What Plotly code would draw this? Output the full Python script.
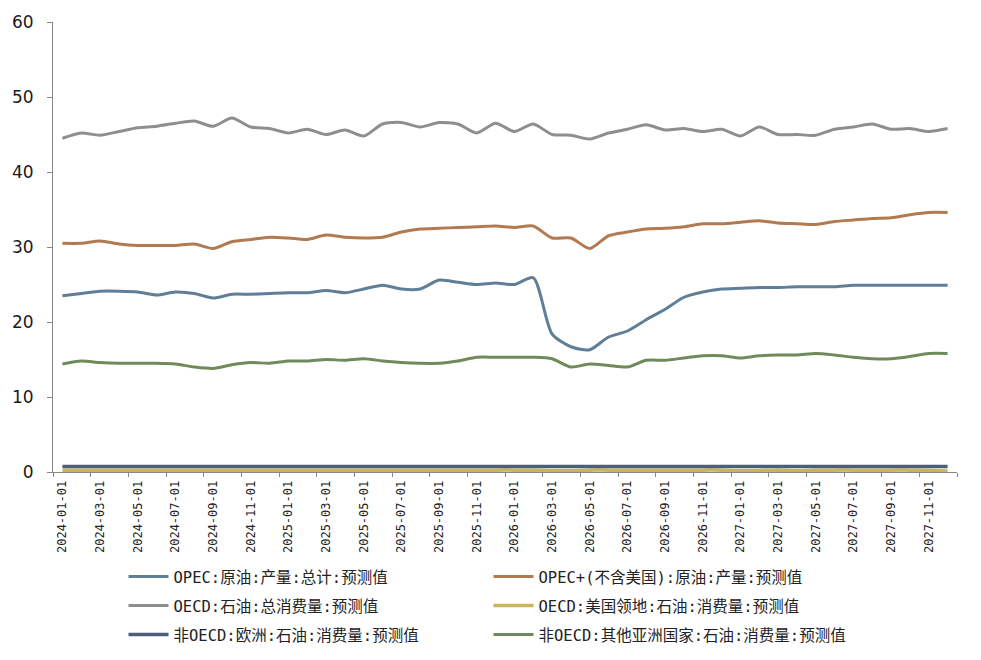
import pandas as pd
import plotly.graph_objs as go

# monthly forecast series, 2024-01 .. 2027-12
months = [d.strftime('%Y-%m-%d') for d in pd.date_range('2024-01-01', '2027-12-01', freq='MS')]

opec = [23.5, 23.8, 24.1, 24.1, 24.0, 23.6, 24.0, 23.8, 23.2, 23.7, 23.7, 23.8,
        23.9, 23.9, 24.2, 23.9, 24.4, 24.9, 24.4, 24.4, 25.6, 25.3, 25.0, 25.2,
        25.0, 25.9, 18.4, 16.7, 16.3, 18.0, 18.8, 20.3, 21.7, 23.3, 24.0, 24.4,
        24.5, 24.6, 24.6, 24.7, 24.7, 24.7, 24.9, 24.9, 24.9, 24.9, 24.9, 24.9]

opec_plus = [30.5, 30.5, 30.8, 30.4, 30.2, 30.2, 30.2, 30.4, 29.8, 30.7, 31.0, 31.3,
             31.2, 31.0, 31.6, 31.3, 31.2, 31.3, 32.0, 32.4, 32.5, 32.6, 32.7, 32.8,
             32.6, 32.8, 31.2, 31.2, 29.8, 31.5, 32.0, 32.4, 32.5, 32.7, 33.1, 33.1,
             33.3, 33.5, 33.2, 33.1, 33.0, 33.4, 33.6, 33.8, 33.9, 34.3, 34.6, 34.6]

oecd_total = [44.5, 45.2, 44.9, 45.4, 45.9, 46.1, 46.5, 46.8, 46.1, 47.2, 46.0, 45.8,
              45.2, 45.7, 45.0, 45.6, 44.8, 46.4, 46.6, 46.0, 46.6, 46.4, 45.2, 46.5,
              45.4, 46.4, 45.0, 44.9, 44.4, 45.2, 45.7, 46.3, 45.6, 45.8, 45.4, 45.7,
              44.8, 46.0, 45.0, 45.0, 44.9, 45.7, 46.0, 46.4, 45.7, 45.8, 45.4, 45.8]

oecd_us_terr = [0.25, 0.25, 0.25, 0.25, 0.25, 0.25, 0.25, 0.25, 0.25, 0.25, 0.25, 0.25,
                0.25, 0.25, 0.25, 0.25, 0.25, 0.25, 0.25, 0.25, 0.25, 0.25, 0.25, 0.25,
                0.25, 0.22, 0.16, 0.16, 0.25, 0.25, 0.25, 0.25, 0.25, 0.25, 0.25, 0.25,
                0.16, 0.18, 0.25, 0.16, 0.22, 0.25, 0.25, 0.25, 0.25, 0.25, 0.2, 0.12]

non_oecd_europe = [0.75] * 48

non_oecd_asia = [14.4, 14.8, 14.6, 14.5, 14.5, 14.5, 14.4, 14.0, 13.8, 14.3, 14.6, 14.5,
                 14.8, 14.8, 15.0, 14.9, 15.1, 14.8, 14.6, 14.5, 14.5, 14.8, 15.3, 15.3,
                 15.3, 15.3, 15.1, 14.0, 14.4, 14.2, 14.0, 14.9, 14.9, 15.2, 15.5, 15.5,
                 15.2, 15.5, 15.6, 15.6, 15.8, 15.6, 15.3, 15.1, 15.1, 15.4, 15.8, 15.8]

series = [
    ('OPEC:原油:产量:总计:预测值', opec, '#5f7e97', 3, 'legend'),
    ('OPEC+(不含美国):原油:产量:预测值', opec_plus, '#b27a50', 3, 'legend'),
    ('OECD:石油:总消费量:预测值', oecd_total, '#8e8e8e', 3, 'legend2'),
    ('OECD:美国领地:石油:消费量:预测值', oecd_us_terr, '#c8b55a', 3.5, 'legend2'),
    ('非OECD:欧洲:石油:消费量:预测值', non_oecd_europe, '#4c5e7a', 3.5, 'legend3'),
    ('非OECD:其他亚洲国家:石油:消费量:预测值', non_oecd_asia, '#6f8b5b', 3, 'legend3'),
]

data = []
for name, vals, color, w, leg in series:
    data.append(go.Scatter(x=months, y=vals, mode='lines', name=name, legend=leg,
                           line=dict(color=color, width=w, shape='spline', smoothing=0.7)))

leg_font = dict(family='DejaVu Sans Mono, Noto Sans CJK SC', size=15.5, color='#222222')
plot_h = 450


def row_legend(y_px):
    # y_px is the row centre in page pixels
    return dict(orientation='h', x=0.078, xanchor='left',
                y=(472 - y_px) / plot_h, yanchor='middle',
                entrywidth=310, entrywidthmode='pixels', itemwidth=40,
                font=leg_font, bgcolor='rgba(0,0,0,0)')


# page body has an 8px margin, so the figure is sized to fit the window
layout = go.Layout(
    width=973, height=652,
    margin=dict(l=45, r=24, t=14, b=188, autoexpand=False),
    paper_bgcolor='white', plot_bgcolor='white',
    xaxis=dict(type='category', range=[-0.5, 47.5], dtick=2, tickson='boundaries',
               tickangle=-90, ticks='outside', ticklen=4, tickcolor='#888888',
               showline=True, linecolor='#888888', linewidth=1, showgrid=False,
               automargin=False, ticklabelstandoff=3,
               tickfont=dict(family='DejaVu Sans Mono', size=12, color='#222222')),
    yaxis=dict(range=[0, 60], dtick=10, ticks='outside', ticklen=5, tickcolor='#888888',
               showline=True, linecolor='#888888', linewidth=1, showgrid=False,
               zeroline=False, ticklabelstandoff=10, automargin=False,
               tickfont=dict(family='DejaVu Sans', size=17, color='#1a1a1a')),
    legend=row_legend(577),
    legend2=row_legend(606),
    legend3=row_legend(635),
)

fig = go.Figure(data=data, layout=layout)
fig.write_html('out.html')
